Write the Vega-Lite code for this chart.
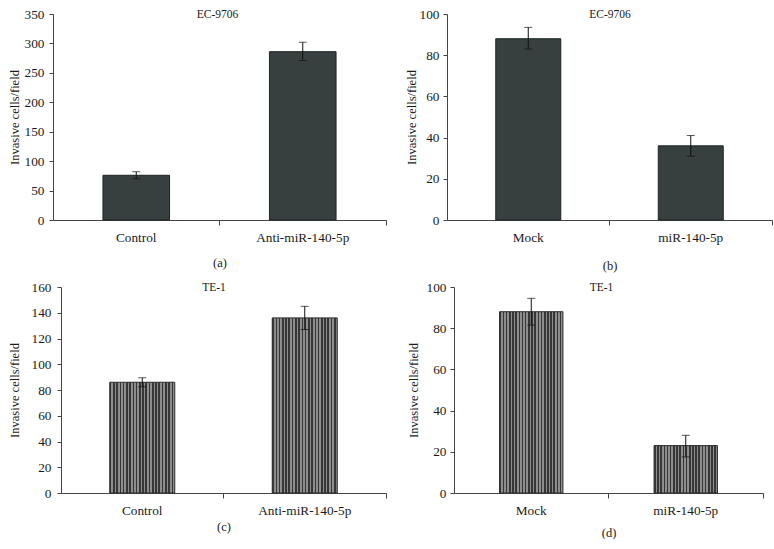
{
  "$schema": "https://vega.github.io/schema/vega-lite/v6.json",
  "background": "white",
  "padding": {"left": 8, "top": 7, "right": 0, "bottom": 0},
  "spacing": {"row": 8, "column": 11},
  "columns": 2,
  "config": {
    "font": "Liberation Serif",
    "view": {"stroke": null},
    "axis": {"labelFont": "Liberation Serif", "titleFont": "Liberation Serif", "labelFontSize": 13.3, "titleFontSize": 12.5, "titleFontWeight": "normal", "labelColor": "#1a1a1a", "titleColor": "#1a1a1a", "domainColor": "#444", "tickColor": "#444", "grid": false, "labelOverlap": false},
    "axisY": {"tickSize": 4},
    "axisX": {"tickSize": 5, "labelAngle": 0, "bandPosition": 1, "labelPadding": 5, "titleFontSize": 12.5},
    "title": {"font": "Liberation Serif", "fontSize": 11.5, "fontWeight": "normal", "color": "#1a1a1a", "offset": -13},
    "bar": {"stroke": "#2a2a2a", "strokeWidth": 1, "fill": {"gradient": "linear", "x1": 0, "x2": 1, "y1": 0, "y2": 0, "stops": [
      {"offset": 0, "color": "#363636"}, {"offset": 0.025, "color": "#363636"}, {"offset": 0.025, "color": "#8e8e8e"}, {"offset": 0.05, "color": "#8e8e8e"},
      {"offset": 0.05, "color": "#363636"}, {"offset": 0.075, "color": "#363636"}, {"offset": 0.075, "color": "#8e8e8e"}, {"offset": 0.1, "color": "#8e8e8e"},
      {"offset": 0.1, "color": "#363636"}, {"offset": 0.125, "color": "#363636"}, {"offset": 0.125, "color": "#8e8e8e"}, {"offset": 0.15, "color": "#8e8e8e"},
      {"offset": 0.15, "color": "#363636"}, {"offset": 0.175, "color": "#363636"}, {"offset": 0.175, "color": "#8e8e8e"}, {"offset": 0.2, "color": "#8e8e8e"},
      {"offset": 0.2, "color": "#363636"}, {"offset": 0.225, "color": "#363636"}, {"offset": 0.225, "color": "#8e8e8e"}, {"offset": 0.25, "color": "#8e8e8e"},
      {"offset": 0.25, "color": "#363636"}, {"offset": 0.275, "color": "#363636"}, {"offset": 0.275, "color": "#8e8e8e"}, {"offset": 0.3, "color": "#8e8e8e"},
      {"offset": 0.3, "color": "#363636"}, {"offset": 0.325, "color": "#363636"}, {"offset": 0.325, "color": "#8e8e8e"}, {"offset": 0.35, "color": "#8e8e8e"},
      {"offset": 0.35, "color": "#363636"}, {"offset": 0.375, "color": "#363636"}, {"offset": 0.375, "color": "#8e8e8e"}, {"offset": 0.4, "color": "#8e8e8e"},
      {"offset": 0.4, "color": "#363636"}, {"offset": 0.425, "color": "#363636"}, {"offset": 0.425, "color": "#8e8e8e"}, {"offset": 0.45, "color": "#8e8e8e"},
      {"offset": 0.45, "color": "#363636"}, {"offset": 0.475, "color": "#363636"}, {"offset": 0.475, "color": "#8e8e8e"}, {"offset": 0.5, "color": "#8e8e8e"},
      {"offset": 0.5, "color": "#363636"}, {"offset": 0.525, "color": "#363636"}, {"offset": 0.525, "color": "#8e8e8e"}, {"offset": 0.55, "color": "#8e8e8e"},
      {"offset": 0.55, "color": "#363636"}, {"offset": 0.575, "color": "#363636"}, {"offset": 0.575, "color": "#8e8e8e"}, {"offset": 0.6, "color": "#8e8e8e"},
      {"offset": 0.6, "color": "#363636"}, {"offset": 0.625, "color": "#363636"}, {"offset": 0.625, "color": "#8e8e8e"}, {"offset": 0.65, "color": "#8e8e8e"},
      {"offset": 0.65, "color": "#363636"}, {"offset": 0.675, "color": "#363636"}, {"offset": 0.675, "color": "#8e8e8e"}, {"offset": 0.7, "color": "#8e8e8e"},
      {"offset": 0.7, "color": "#363636"}, {"offset": 0.725, "color": "#363636"}, {"offset": 0.725, "color": "#8e8e8e"}, {"offset": 0.75, "color": "#8e8e8e"},
      {"offset": 0.75, "color": "#363636"}, {"offset": 0.775, "color": "#363636"}, {"offset": 0.775, "color": "#8e8e8e"}, {"offset": 0.8, "color": "#8e8e8e"},
      {"offset": 0.8, "color": "#363636"}, {"offset": 0.825, "color": "#363636"}, {"offset": 0.825, "color": "#8e8e8e"}, {"offset": 0.85, "color": "#8e8e8e"},
      {"offset": 0.85, "color": "#363636"}, {"offset": 0.875, "color": "#363636"}, {"offset": 0.875, "color": "#8e8e8e"}, {"offset": 0.9, "color": "#8e8e8e"},
      {"offset": 0.9, "color": "#363636"}, {"offset": 0.925, "color": "#363636"}, {"offset": 0.925, "color": "#8e8e8e"}, {"offset": 0.95, "color": "#8e8e8e"},
      {"offset": 0.95, "color": "#363636"}, {"offset": 0.975, "color": "#363636"}, {"offset": 0.975, "color": "#8e8e8e"}, {"offset": 1, "color": "#8e8e8e"}
    ]}}
  },
  "concat": [
    {
      "width": 325, "height": 206,
      "title": {"text": "EC-9706", "dx": -6},
      "data": {"values": [
        {"group": "Control", "value": 76, "lo": 70, "hi": 82},
        {"group": "Anti-miR-140-5p", "value": 286, "lo": 271, "hi": 302}
      ]},
      "encoding": {"x": {"field": "group", "type": "nominal", "sort": null, "scale": {"paddingInner": 0, "paddingOuter": 0, "range": [-8, 325]}, "axis": {"title": "(a)", "titlePadding": 13}}},
      "layer": [
        {"mark": {"type": "bar", "width": {"band": 0.4}, "fill": "#37403f", "stroke": "#1e2424"},
         "encoding": {"y": {"field": "value", "type": "quantitative", "scale": {"domain": [0, 350], "nice": false}, "axis": {"title": "Invasive cells/field", "values": [0, 50, 100, 150, 200, 250, 300, 350], "offset": 8, "labelOverlap": false, "labelPadding": 5, "titlePadding": 3}}}},
        {"mark": {"type": "rule", "color": "#111"}, "encoding": {"y": {"field": "lo", "type": "quantitative", "axis": {"title": "Invasive cells/field", "values": [0, 50, 100, 150, 200, 250, 300, 350], "offset": 8, "labelOverlap": false, "labelPadding": 5, "titlePadding": 3}}, "y2": {"field": "hi"}}},
        {"mark": {"type": "tick", "color": "#111", "size": 8, "thickness": 1}, "encoding": {"y": {"field": "lo", "type": "quantitative", "axis": {"title": "Invasive cells/field", "values": [0, 50, 100, 150, 200, 250, 300, 350], "offset": 8, "labelOverlap": false, "labelPadding": 5, "titlePadding": 3}}}},
        {"mark": {"type": "tick", "color": "#111", "size": 8, "thickness": 1}, "encoding": {"y": {"field": "hi", "type": "quantitative", "axis": {"title": "Invasive cells/field", "values": [0, 50, 100, 150, 200, 250, 300, 350], "offset": 8, "labelOverlap": false, "labelPadding": 5, "titlePadding": 3}}}}
      ]
    },
    {
      "width": 318, "height": 206,
      "title": {"text": "EC-9706", "dx": -3},
      "data": {"values": [
        {"group": "Mock", "value": 88, "lo": 83, "hi": 93.5},
        {"group": "miR-140-5p", "value": 36, "lo": 31, "hi": 41}
      ]},
      "encoding": {"x": {"field": "group", "type": "nominal", "sort": null, "scale": {"paddingInner": 0, "paddingOuter": 0, "range": [-7, 318]}, "axis": {"title": "(b)", "titlePadding": 16}}},
      "layer": [
        {"mark": {"type": "bar", "width": {"band": 0.4}, "fill": "#37403f", "stroke": "#1e2424"},
         "encoding": {"y": {"field": "value", "type": "quantitative", "scale": {"domain": [0, 100], "nice": false}, "axis": {"title": "Invasive cells/field", "values": [0, 20, 40, 60, 80, 100], "offset": 7, "labelOverlap": false, "labelPadding": 4, "titlePadding": 1}}}},
        {"mark": {"type": "rule", "color": "#111"}, "encoding": {"y": {"field": "lo", "type": "quantitative", "axis": {"title": "Invasive cells/field", "values": [0, 20, 40, 60, 80, 100], "offset": 7, "labelOverlap": false, "labelPadding": 4, "titlePadding": 1}}, "y2": {"field": "hi"}}},
        {"mark": {"type": "tick", "color": "#111", "size": 8, "thickness": 1}, "encoding": {"y": {"field": "lo", "type": "quantitative", "axis": {"title": "Invasive cells/field", "values": [0, 20, 40, 60, 80, 100], "offset": 7, "labelOverlap": false, "labelPadding": 4, "titlePadding": 1}}}},
        {"mark": {"type": "tick", "color": "#111", "size": 8, "thickness": 1}, "encoding": {"y": {"field": "hi", "type": "quantitative", "axis": {"title": "Invasive cells/field", "values": [0, 20, 40, 60, 80, 100], "offset": 7, "labelOverlap": false, "labelPadding": 4, "titlePadding": 1}}}}
      ]
    },
    {
      "width": 325, "height": 206,
      "title": {"text": "TE-1", "dx": -9.5},
      "data": {"values": [
        {"group": "Control", "value": 86, "lo": 82.5, "hi": 89.5},
        {"group": "Anti-miR-140-5p", "value": 136, "lo": 127, "hi": 145}
      ]},
      "encoding": {"x": {"field": "group", "type": "nominal", "sort": null, "scale": {"paddingInner": 0, "paddingOuter": 0}, "axis": {"title": "(c)", "titlePadding": 4}}},
      "layer": [
        {"mark": {"type": "bar", "width": {"band": 0.4}},
         "encoding": {"y": {"field": "value", "type": "quantitative", "scale": {"domain": [0, 160], "nice": false}, "axis": {"title": "Invasive cells/field", "values": [0, 20, 40, 60, 80, 100, 120, 140, 160], "labelOverlap": false, "labelPadding": 6, "titlePadding": 10}}}},
        {"mark": {"type": "rule", "color": "#111"}, "encoding": {"y": {"field": "lo", "type": "quantitative", "axis": {"title": "Invasive cells/field", "values": [0, 20, 40, 60, 80, 100, 120, 140, 160], "labelOverlap": false, "labelPadding": 6, "titlePadding": 10}}, "y2": {"field": "hi"}}},
        {"mark": {"type": "tick", "color": "#111", "size": 8, "thickness": 1}, "encoding": {"y": {"field": "lo", "type": "quantitative", "axis": {"title": "Invasive cells/field", "values": [0, 20, 40, 60, 80, 100, 120, 140, 160], "labelOverlap": false, "labelPadding": 6, "titlePadding": 10}}}},
        {"mark": {"type": "tick", "color": "#111", "size": 8, "thickness": 1}, "encoding": {"y": {"field": "hi", "type": "quantitative", "axis": {"title": "Invasive cells/field", "values": [0, 20, 40, 60, 80, 100, 120, 140, 160], "labelOverlap": false, "labelPadding": 6, "titlePadding": 10}}}}
      ]
    },
    {
      "width": 309, "height": 206,
      "title": {"text": "TE-1", "dx": -7},
      "data": {"values": [
        {"group": "Mock", "value": 88, "lo": 81.5, "hi": 94.5},
        {"group": "miR-140-5p", "value": 23, "lo": 17.5, "hi": 28}
      ]},
      "encoding": {"x": {"field": "group", "type": "nominal", "sort": null, "scale": {"paddingInner": 0, "paddingOuter": 0}, "axis": {"title": "(d)", "titlePadding": 10}}},
      "layer": [
        {"mark": {"type": "bar", "width": {"band": 0.41}},
         "encoding": {"y": {"field": "value", "type": "quantitative", "scale": {"domain": [0, 100], "nice": false}, "axis": {"title": "Invasive cells/field", "values": [0, 20, 40, 60, 80, 100], "labelOverlap": false, "labelPadding": 4, "titlePadding": 6}}}},
        {"mark": {"type": "rule", "color": "#111"}, "encoding": {"y": {"field": "lo", "type": "quantitative", "axis": {"title": "Invasive cells/field", "values": [0, 20, 40, 60, 80, 100], "labelOverlap": false, "labelPadding": 4, "titlePadding": 6}}, "y2": {"field": "hi"}}},
        {"mark": {"type": "tick", "color": "#111", "size": 8, "thickness": 1}, "encoding": {"y": {"field": "lo", "type": "quantitative", "axis": {"title": "Invasive cells/field", "values": [0, 20, 40, 60, 80, 100], "labelOverlap": false, "labelPadding": 4, "titlePadding": 6}}}},
        {"mark": {"type": "tick", "color": "#111", "size": 8, "thickness": 1}, "encoding": {"y": {"field": "hi", "type": "quantitative", "axis": {"title": "Invasive cells/field", "values": [0, 20, 40, 60, 80, 100], "labelOverlap": false, "labelPadding": 4, "titlePadding": 6}}}}
      ]
    }
  ]
}
